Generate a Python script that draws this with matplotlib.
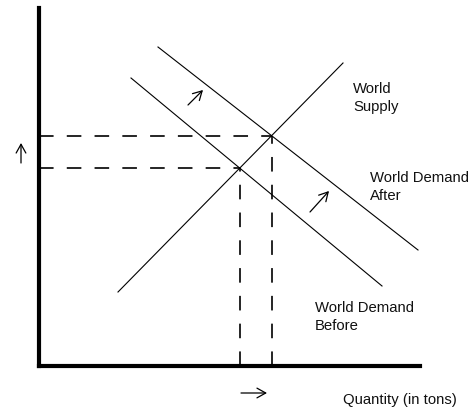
import matplotlib
matplotlib.use("Agg")
import matplotlib.pyplot as plt
import numpy as np

plt.rcParams['font.family'] = ['Liberation Sans', 'DejaVu Sans']
plt.rcParams['lines.scale_dashes'] = False

# Data (quantity, price) in chart units
supply_q = [79, 304]
supply_p = [74, 303]
demand_before_q = [92, 343]
demand_before_p = [288, 80]
demand_after_q = [119, 379]
demand_after_p = [319, 116]

labels = {
    "supply": "World\nSupply",
    "after": "World Demand\nAfter",
    "before": "World Demand\nBefore",
    "xlabel": "Quantity (in tons)",
}
label_pos = {
    "supply": (314, 268),
    "after": (331, 179),
    "before": (276, 49),
    "xlabel": (304, -34),
}
# shift arrows (start -> end)
arrows = [
    ((149, 261), (164, 276)),
    ((271, 154), (290, 175)),
    ((-18, 203), (-18, 223)),
    ((202, -27), (228, -27)),
]


def intersect(q1, p1, q2, p2):
    m1 = (p1[1] - p1[0]) / (q1[1] - q1[0])
    m2 = (p2[1] - p2[0]) / (q2[1] - q2[0])
    b1 = p1[0] - m1 * q1[0]
    b2 = p2[0] - m2 * q2[0]
    q = (b2 - b1) / (m1 - m2)
    return q, m1 * q + b1


W, H = 471, 408
fig = plt.figure(figsize=(W / 100, H / 100), dpi=100)
ax = fig.add_axes([39 / W, 42 / H, 381 / W, 358 / H])
ax.set_xlim(0, 381)
ax.set_ylim(0, 358)
for s in ["top", "right"]:
    ax.spines[s].set_visible(False)
for s in ["left", "bottom"]:
    ax.spines[s].set_linewidth(3.0)
    ax.spines[s].set_color("black")
ax.set_xticks([])
ax.set_yticks([])

lw = 0.8
ax.plot(supply_q, supply_p, color="black", lw=lw)
ax.plot(demand_before_q, demand_before_p, color="black", lw=lw)
ax.plot(demand_after_q, demand_after_p, color="black", lw=lw)

for dq, dp in [(demand_before_q, demand_before_p), (demand_after_q, demand_after_p)]:
    q, p = intersect(supply_q, supply_p, dq, dp)
    ax.plot([0, q], [p, p], color="black", lw=1.2, linestyle=(0, (10.5, 9.5)))
    ax.plot([q, q], [0, p], color="black", lw=1.2, linestyle=(0, (10.5, 9.5)))

for k, txt in labels.items():
    x, y = label_pos[k]
    ax.text(x, y, txt, fontsize=10.7, ha="left", va="center",
            linespacing=1.45, clip_on=False, color="#111111")

for (x0, y0), (x1, y1) in arrows:
    ax.annotate("", xy=(x1, y1), xytext=(x0, y0),
                arrowprops=dict(arrowstyle="->,head_length=0.45,head_width=0.25",
                                lw=0.9, color="black",
                                shrinkA=0, shrinkB=0, mutation_scale=14),
                annotation_clip=False)

fig.savefig("out.png", dpi=100)
